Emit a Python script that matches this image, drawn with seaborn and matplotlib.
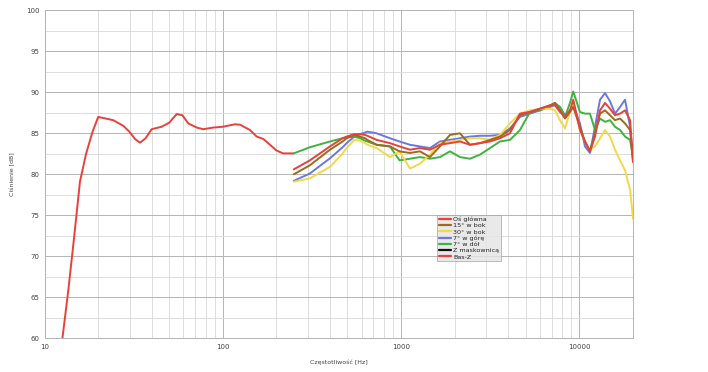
import numpy as np
import pandas as pd
import seaborn as sns
import matplotlib.pyplot as plt
from matplotlib.ticker import FixedLocator, NullFormatter, MultipleLocator

# Bas-Z (low frequency part, red)
basz_f = [12.6, 13.6, 14.6, 15.8, 17.1, 18.6, 20.0, 24.3, 27.7, 29.9, 32.2, 34.3, 36.9, 39.9,
          45.4, 50.1, 55.1, 59.3, 64.1, 71.4, 77.7, 88.4, 100, 117, 125, 142, 155, 169, 184,
          200, 218, 249]
basz_db = [60.0, 65.9, 72.0, 79.1, 82.5, 85.2, 87.0, 86.6, 85.9, 85.2, 84.3, 83.85, 84.4, 85.5,
           85.8, 86.3, 87.35, 87.2, 86.2, 85.7, 85.5, 85.7, 85.8, 86.1, 86.05, 85.4, 84.6, 84.3,
           83.6, 82.9, 82.55, 82.55]

# shared frequency grid for the mid/high range
mid_f = [250, 308, 399, 470, 495, 547, 588, 628, 646, 729, 866, 980, 1122, 1276, 1452, 1652,
         1880, 2139, 2435, 2771, 3152, 3587, 4082, 4645, 5285, 6014, 6843, 7300, 7786, 8305,
         8860, 9240, 10080, 10750, 11470, 12240, 13060, 13930, 14860, 15850, 16910, 18040,
         19250, 20000]

os_glowna = [80.6, 81.7, 83.4, 84.4, 84.6, 84.9, 84.9, 84.8, 84.7, 84.2, 83.8, 83.4, 83.0, 83.2,
             83.0, 83.6, 83.8, 84.0, 83.6, 83.8, 84.0, 84.4, 85.0, 87.4, 87.6, 88.0, 88.4, 88.4,
             87.6, 87.0, 87.8, 89.1, 85.4, 84.0, 82.8, 84.6, 87.8, 88.7, 88.0, 87.2, 87.4, 87.8,
             86.6, 81.5]
bok_15 = [80.0, 81.1, 83.0, 84.0, 84.4, 84.8, 84.6, 84.4, 84.2, 83.6, 83.4, 82.8, 82.6, 82.8,
          82.1, 83.4, 84.8, 85.0, 83.6, 83.8, 84.2, 84.6, 85.4, 87.2, 87.6, 88.0, 88.4, 88.7,
          87.8, 86.8, 87.6, 88.2, 85.8, 84.0, 82.8, 85.0, 87.4, 87.8, 87.2, 86.6, 86.8, 86.2,
          85.4, 81.5]
bok_30 = [79.1, 79.5, 80.9, 82.55, 83.2, 84.2, 84.1, 83.8, 83.6, 83.2, 82.1, 82.8, 80.7, 81.3,
          82.4, 83.8, 84.0, 84.2, 84.4, 84.4, 84.2, 84.8, 86.2, 87.4, 87.8, 88.0, 88.0, 87.8,
          86.6, 85.6, 87.6, 88.7, 85.4, 84.0, 83.0, 83.4, 84.4, 85.4, 84.6, 83.0, 81.7, 80.5,
          78.1, 74.6]
gora_7 = [79.2, 80.1, 81.95, 83.3, 83.8, 84.6, 84.9, 85.1, 85.2, 85.0, 84.4, 84.0, 83.6, 83.4,
          83.2, 84.0, 84.2, 84.4, 84.6, 84.7, 84.7, 84.8, 85.6, 87.0, 87.4, 87.8, 88.2, 88.5,
          88.2, 87.2, 87.8, 88.4, 86.2, 83.4, 82.6, 85.8, 89.1, 89.9, 88.9, 87.4, 88.2, 89.1,
          85.8, 82.1]
dol_7 = [82.55, 83.3, 84.0, 84.4, 84.5, 84.6, 84.4, 84.1, 84.0, 83.6, 83.4, 81.7, 81.9, 82.1,
         81.9, 82.1, 82.8, 82.1, 81.9, 82.4, 83.2, 84.0, 84.2, 85.4, 87.6, 87.8, 88.4, 88.7,
         88.2, 87.0, 88.7, 90.1, 87.6, 87.4, 87.4, 85.4, 86.8, 86.4, 86.6, 85.8, 85.4, 84.6,
         84.2, 82.1]

labels = ['Oś główna', '15° w bok', '30° w bok', '7° w górę', '7° w dół', 'Z maskownicą', 'Bas-Z']
colors = ['#e8413c', '#9b6b1e', '#f2d84a', '#6b78dc', '#3fb23f', '#111111', '#e8413c']

sns.set_style('white')
plt.rcParams['font.family'] = ['DejaVu Sans']

fig = plt.figure(figsize=(7.08, 3.72), dpi=100)
ax = fig.add_axes([0.0629, 0.0906, 0.8312, 0.8817])

series = [
    ('Bas-Z', basz_f, basz_db),
    ('7° w górę', mid_f, gora_7),
    ('7° w dół', mid_f, dol_7),
    ('30° w bok', mid_f, bok_30),
    ('15° w bok', mid_f, bok_15),
    ('Oś główna', mid_f, os_glowna),
]
pal = dict(zip(labels, colors))
for name, f, db in series:
    df = pd.DataFrame({'f': f, 'db': db})
    sns.lineplot(data=df, x='f', y='db', color=pal[name], lw=1.4, ax=ax, legend=False)

ax.set_xscale('log')
ax.set_xlim(10, 20000)
ax.set_ylim(60, 100)

ax.xaxis.set_major_locator(FixedLocator([10, 100, 1000, 10000]))
ax.set_xticklabels(['10', '100', '1000', '10000'])
minor = [m * d for d in [10, 100, 1000, 10000] for m in range(2, 10) if m * d <= 20000]
ax.xaxis.set_minor_locator(FixedLocator(minor))
ax.xaxis.set_minor_formatter(NullFormatter())
ax.yaxis.set_major_locator(MultipleLocator(5))
ax.yaxis.set_minor_locator(MultipleLocator(2.5))

ax.grid(which='major', color='#b4b4b4', lw=0.7)
ax.grid(which='minor', color='#d8d8d8', lw=0.6)
ax.tick_params(which='both', length=0, labelsize=5, colors='#444444')
ax.tick_params(axis='x', which='major', pad=4)
ax.tick_params(axis='y', which='major', length=2, color='#999999', pad=1.5)
for s in ax.spines.values():
    s.set_color('#b4b4b4')
    s.set_linewidth(0.7)

ax.set_xlabel('Częstotliwość [Hz]', fontsize=4.5, color='#444444', labelpad=7)
ax.set_ylabel('Ciśnienie [dB]', fontsize=4.5, color='#444444', labelpad=8)

handles = [plt.Line2D([], [], color=c, lw=1.6) for c in colors]
leg = ax.legend(handles, labels, loc='upper left', bbox_to_anchor=(0.667, 0.376),
                fontsize=4.6, frameon=True, fancybox=False, handlelength=2.0,
                labelspacing=0.12, handletextpad=0.25, borderpad=0.25, borderaxespad=0)
leg.get_frame().set_facecolor('#e4e4e4')
leg.get_frame().set_edgecolor('#a0a0a0')
leg.get_frame().set_linewidth(0.6)
for t in leg.get_texts():
    t.set_color('#222222')

fig.savefig('out.png', dpi=100)
